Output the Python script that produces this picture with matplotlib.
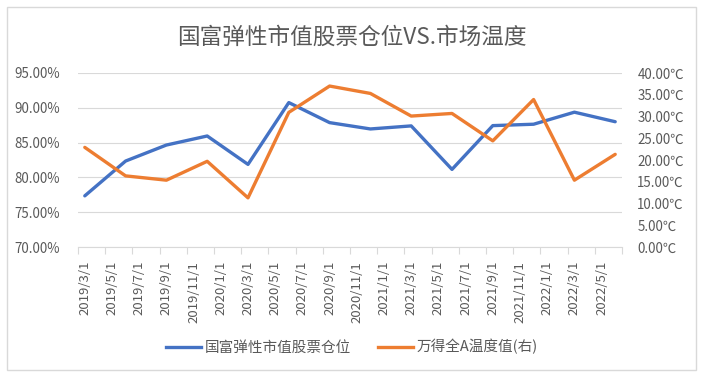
import matplotlib
matplotlib.use("Agg")
import matplotlib.pyplot as plt
from matplotlib.patches import Rectangle
from matplotlib.lines import Line2D

plt.rcParams['font.family'] = ['Noto Sans CJK SC', 'DejaVu Sans']

# 季度末数据
quarters = ["2019/3", "2019/6", "2019/9", "2019/12",
            "2020/3", "2020/6", "2020/9", "2020/12",
            "2021/3", "2021/6", "2021/9", "2021/12",
            "2022/3", "2022/6"]
cang_wei = [77.35, 82.35, 84.65, 85.95, 81.87, 90.75, 87.87,
            86.96, 87.40, 81.15, 87.44, 87.64, 89.37, 88.00]
wendu = [22.9, 16.35, 15.36, 19.7, 11.3, 30.95, 37.0,
         35.3, 30.1, 30.7, 24.4, 33.9, 15.36, 21.3]

tick_labels = ["2019/3/1", "2019/5/1", "2019/7/1", "2019/9/1", "2019/11/1",
               "2020/1/1", "2020/3/1", "2020/5/1", "2020/7/1", "2020/9/1", "2020/11/1",
               "2021/1/1", "2021/3/1", "2021/5/1", "2021/7/1", "2021/9/1", "2021/11/1",
               "2022/1/1", "2022/3/1", "2022/5/1"]

name_left = "国富弹性市值股票仓位"
name_right = "万得全A温度值(右)"
title = "国富弹性市值股票仓位VS.市场温度"

grey = '#595959'
light = '#D9D9D9'


def month_index(s):
    p = s.split("/")
    return (int(p[0]) - 2019) * 12 + int(p[1]) - 3


x = [month_index(q) for q in quarters]
label_pos = [month_index(t) for t in tick_labels]
bounds = [p - 0.5 for p in label_pos] + [label_pos[-1] + 1.5]

fig = plt.figure(figsize=(7.03, 3.77), dpi=100)
fig.patches.append(Rectangle((7 / 703, 7 / 377), 689 / 703, 363 / 377,
                             transform=fig.transFigure, fill=False,
                             edgecolor=light, lw=1))

ax = fig.add_axes([78 / 703, 1 - 247 / 377, 544 / 703, 174 / 377])
ax2 = ax.twinx()

ax.plot(x, cang_wei, color='#4472C4', lw=2.4, solid_joinstyle='round',
        solid_capstyle='round')
ax2.plot(x, wendu, color='#ED7D31', lw=2.4, solid_joinstyle='round',
         solid_capstyle='round')

ax.set_xlim(bounds[0], bounds[-1])
ax.set_ylim(70, 95)
ax2.set_ylim(0, 40)
ax.set_yticks(range(70, 96, 5))
ax.set_yticklabels(["%.2f%%" % v for v in range(70, 96, 5)])
ax2.set_yticks(range(0, 41, 5))
ax2.set_yticklabels(["%.2f℃" % v for v in range(0, 41, 5)])

ax.set_xticks(bounds)
ax.set_xticklabels([])
ax.set_xticks(label_pos, minor=True)
ax.set_xticklabels(tick_labels, minor=True, rotation=90)
ax.tick_params(axis='x', which='major', length=5, color=light, width=0.8)
ax.tick_params(axis='x', which='minor', length=0, pad=10, labelsize=9.5,
               labelcolor=grey)
ax.tick_params(axis='y', length=0, pad=13, labelsize=9.6, labelcolor=grey)
ax2.tick_params(axis='y', length=0, pad=11, labelsize=9.6, labelcolor=grey)

for a in (ax, ax2):
    for side in ('top', 'left', 'right'):
        a.spines[side].set_visible(False)
    a.spines['bottom'].set_color(light)
ax2.spines['bottom'].set_visible(False)

ax.grid(axis='y', color=light, lw=0.8)
ax.set_axisbelow(True)

fig.text(0.5, 1 - 37 / 377, title, ha='center', va='center',
         fontsize=16.3, color=grey)

handles = [Line2D([], [], color='#4472C4', lw=2.4),
           Line2D([], [], color='#ED7D31', lw=2.4)]
fig.legend(handles, [name_left, name_right], loc='center',
           bbox_to_anchor=(352 / 703, 1 - 347 / 377), ncol=2, frameon=False,
           fontsize=10.5, labelcolor=grey, handlelength=2.4,
           handletextpad=0.2, columnspacing=1.9)

fig.savefig("out.png", dpi=100)
